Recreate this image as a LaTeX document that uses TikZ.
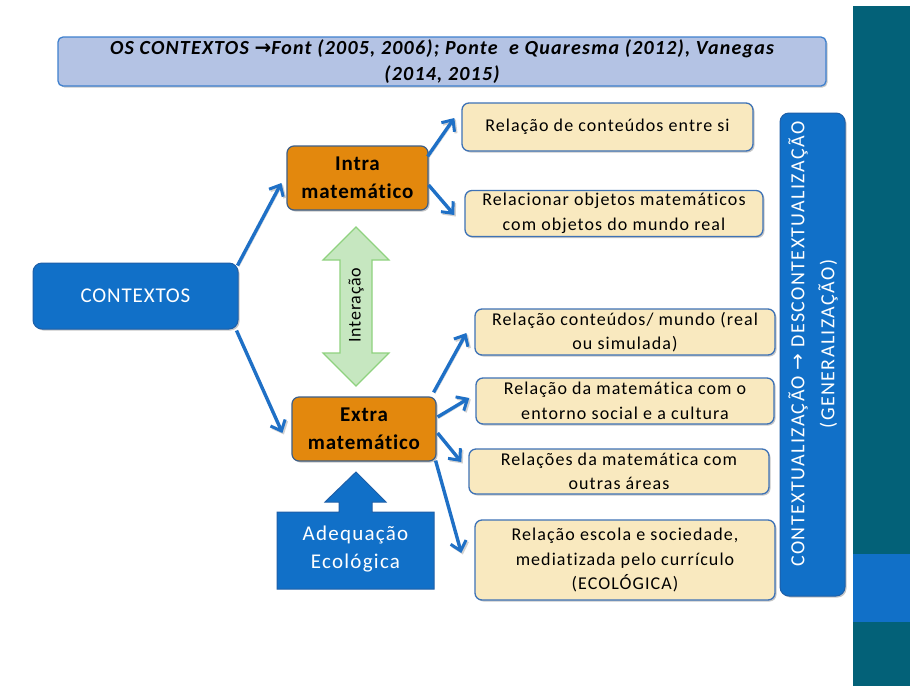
\documentclass[tikz,border=0pt]{standalone}
\usepackage{fontspec}
\setmainfont{Carlito}[Ligatures=NoCommon]
\newfontfamily\symfont{DejaVu Sans}
\usetikzlibrary{arrows.meta,shadows}

\definecolor{mainblue}{HTML}{1170C8}
\definecolor{blueedge}{HTML}{1E5FA8}
\definecolor{teal}{HTML}{036178}
\definecolor{beige}{HTML}{F9E9BF}
\definecolor{beigeedge}{HTML}{3E72B6}
\definecolor{orangefill}{HTML}{E3880D}
\definecolor{orangeedge}{HTML}{3D5F88}
\definecolor{titlefill}{HTML}{B4C3E4}
\definecolor{titleedge}{HTML}{3F80CE}
\definecolor{greenfill}{HTML}{C6E7C0}
\definecolor{greenedge}{HTML}{8FD27F}
\definecolor{arrowblue}{HTML}{1F70C6}

\pgfdeclareradialshading{slidebg}{\pgfpoint{0bp}{0bp}}{%
  color(0bp)=(white); color(40bp)=(white); color(72bp)=(black!15)}

\tikzset{
  softshadow/.style={drop shadow={shadow xshift=1.5pt, shadow yshift=-1.5pt, opacity=0.22, fill=black}},
  itembox/.style={draw=beigeedge, fill=beige, line width=1.3pt, rounded corners=7pt,
    align=center, inner sep=0pt, softshadow,
    font=\fontsize{18}{24.5}\selectfont\addfontfeature{LetterSpace=6}},
  levelbox/.style={draw=orangeedge, fill=orangefill, line width=1.2pt, rounded corners=7pt,
    align=center, inner sep=0pt, softshadow,
    font=\fontsize{21}{28}\selectfont\bfseries\addfontfeature{LetterSpace=4}},
  link/.style={draw=arrowblue, line width=3.4pt,
    -{Straight Barb[length=9pt,width=16pt,line width=3pt]},
    preaction={draw=black!18, transform canvas={shift={(1.5pt,-1.5pt)}}}},
}

\begin{document}
\begin{tikzpicture}[x=1pt,y=-1pt]
\useasboundingbox (0,0) rectangle (910,686);

% slide background and side band
\fill[white] (0,0) rectangle (910,686);
\fill[shading=slidebg] (4,6) rectangle (853,686);
\fill[teal] (853,6) rectangle (910,686);
\fill[mainblue] (853,554) rectangle (910,622);

% title banner
\node[draw=titleedge, fill=titlefill, line width=1.3pt, rounded corners=5pt,
      minimum width=768pt, minimum height=49pt, inner sep=0pt, softshadow,
      align=center, font=\fontsize{20}{26}\selectfont\bfseries\itshape\addfontfeature{LetterSpace=6}] (title) at (442,61.5)
  {OS CONTEXTOS {\symfont\bfseries →}Font (2005, 2006); Ponte~ e Quaresma (2012), Vanegas\\(2014, 2015)};

% root
\node[draw=blueedge, fill=mainblue, line width=1pt, rounded corners=9pt,
      minimum width=205pt, minimum height=66pt, text=white, softshadow,
      font=\fontsize{21}{26}\selectfont\addfontfeature{LetterSpace=4}] (ctx) at (135.5,296) {CONTEXTOS};

% two levels
\node[levelbox, minimum width=141pt, minimum height=64pt] (intra) at (357.5,178) {Intra\\matemático};
\node[levelbox, minimum width=144pt, minimum height=64pt] (extra) at (364,429) {Extra\\matemático};

% interaction double arrow
\path[draw=greenedge, fill=greenfill, line width=1.2pt]
  (356,227) -- (389,260) -- (372,260) -- (372,353) -- (389,353) -- (356,386)
  -- (323,353) -- (340,353) -- (340,260) -- (323,260) -- cycle;
\node[rotate=90, font=\fontsize{18}{22}\selectfont\addfontfeature{LetterSpace=4}] (inter) at (356,305) {Interação};

% ecological adequacy block arrow
\path[draw=blueedge, fill=mainblue, line width=1pt]
  (277,589) -- (277,512) -- (339,512) -- (339,502) -- (325,502) -- (356,472)
  -- (386,502) -- (372,502) -- (372,512) -- (434,512) -- (434,589) -- cycle;
\node[text=white, align=center, font=\fontsize{21}{28}\selectfont\addfontfeature{LetterSpace=6}] (adeq) at (355.5,549)
  {Adequação\\Ecológica};

% item boxes
\node[itembox, minimum width=291pt, minimum height=48pt] (b1) at (607.5,127)
  {Relação de conteúdos entre si};
\node[itembox, minimum width=298pt, minimum height=46pt] (b2) at (614,213.5)
  {Relacionar objetos matemáticos\\com objetos do mundo real};
\node[itembox, minimum width=300pt, minimum height=46pt] (b3) at (625,332)
  {Relação conteúdos/ mundo (real\\ou simulada)};
\node[itembox, minimum width=298pt, minimum height=46pt] (b4) at (625,401)
  {Relação da matemática com o\\entorno social e a cultura};
\node[itembox, minimum width=300pt, minimum height=45pt] (b5) at (619,471.5)
  {Relações da matemática com\\outras áreas};
\node[itembox, minimum width=300pt, minimum height=80pt] (b6) at (625,560)
  {Relação escola e sociedade,\\mediatizada pelo currículo\\(ECOLÓGICA)};

% vertical summary bar
\node[draw=blueedge, fill=mainblue, line width=1pt, rounded corners=9pt,
      minimum width=65pt, minimum height=483pt, inner sep=0pt, softshadow] (bar) at (812.5,354.5) {};
\node[rotate=90, text=white, align=center, font=\fontsize{20}{30}\selectfont\addfontfeature{LetterSpace=7}] (bartext) at (813,344)
  {CONTEXTUALIZAÇÃO {\symfont →} DESCONTEXTUALIZAÇÃO\\(GENERALIZAÇÃO)};

% connectors
\draw[link] ([shift={(-1,3)}]ctx.north east) -- ([shift={(-5,5)}]intra.west);
\draw[link] ([shift={(-2,1)}]ctx.south east) -- ([shift={(-9,4)}]extra.west);
\draw[link] ([shift={(-1,11)}]intra.north east) -- ([shift={(-7,-9)}]b1.west);
\draw[link] ([shift={(0,7)}]intra.east) -- ([shift={(-10,1.5)}]b2.west);
\draw[link] ([shift={(-3,-4)}]extra.north east) -- ([shift={(-8,1)}]b3.west);
\draw[link] ([shift={(1,-12)}]extra.east) -- ([shift={(-6,-3)}]b4.west);
\draw[link] ([shift={(1,4)}]extra.east) -- ([shift={(-7,-9.5)}]b5.west);
\draw[link] ([shift={(-1,-1)}]extra.south east) -- ([shift={(-13,-7)}]b6.west);
\end{tikzpicture}
\end{document}
